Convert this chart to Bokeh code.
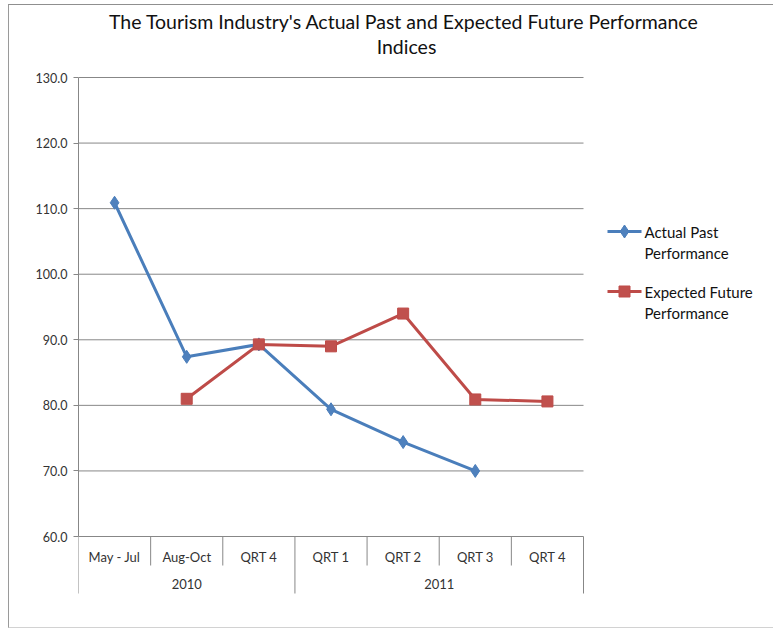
from bokeh.plotting import figure
from bokeh.models import Range1d, FixedTicker, PrintfTickFormatter
from bokeh.core.properties import value
from bokeh.embed import file_html
from bokeh.resources import INLINE

nan = float("nan")

# ---- data -------------------------------------------------------------
periods = ["May - Jul", "Aug-Oct", "QRT 4", "QRT 1", "QRT 2", "QRT 3", "QRT 4"]
years = ["2010", "2011"]
periods_per_year = [3, 4]
actual_past = [110.9, 87.4, 89.3, 79.4, 74.4, 70.0, nan]
expected_future = [nan, 81.0, 89.3, 89.0, 94.0, 80.9, 80.6]
y_ticks = [60, 70, 80, 90, 100, 110, 120, 130]
series_labels = [["Actual Past", "Performance"], ["Expected Future", "Performance"]]
title_lines = ["The Tourism  Industry's Actual Past and Expected Future Performance", "Indices"]

# ---- layout (canvas pixels) -------------------------------------------
W, H = 765, 624
FRAME_LEFT = 69            # pixel x of the first category boundary
PLOT_RIGHT = 574           # pixel x of the last category boundary
Y_TOP_PX, Y_BOT_PX = 72, 531   # pixel y of the top / bottom tick

n = len(periods)
ux = (PLOT_RIGHT - FRAME_LEFT) / n
y_lo, y_hi = min(y_ticks), max(y_ticks)
uy = (Y_BOT_PX - Y_TOP_PX) / (y_hi - y_lo)


def dx(px):
    return (px - FRAME_LEFT) / ux


def dy(py):
    return y_hi - (py - Y_TOP_PX) / uy


FONT = value("Lato")
GRID = "#878787"
BLUE_LINE, BLUE_MARK = "#4a7ebb", "#4f81bd"
RED_LINE, RED_MARK = "#be4b48", "#c0504d"

p = figure(
    width=W, height=H,
    x_range=Range1d(0, dx(W)), y_range=Range1d(dy(H), dy(0)),
    output_backend="svg", toolbar_location=None, x_axis_location=None,
    min_border_left=FRAME_LEFT, min_border_right=0, min_border_top=0, min_border_bottom=0,
    background_fill_color="white", border_fill_color="white",
    margin=(4, 0, 0, 8),
    styles={
        "border-top": "1px solid #8f8f8f",
        "border-left": "1px solid #9a9a9a",
        "border-bottom": "1px solid #d2d2d2",
    },
)
p.outline_line_color = None
p.grid.visible = False

# value axis
ax = p.yaxis[0]
ax.ticker = FixedTicker(ticks=y_ticks)
ax.formatter = PrintfTickFormatter(format="%.1f")
ax.bounds = (y_lo, y_hi)
ax.axis_line_color = GRID
ax.major_tick_line_color = GRID
ax.major_tick_out = 5
ax.major_tick_in = 0
ax.minor_tick_line_color = None
ax.major_label_standoff = 6
ax.major_label_text_font = "Lato"
ax.major_label_text_font_size = "12.5px"
ax.major_label_text_color = "#333333"

# horizontal gridlines
p.segment(x0=[0] * len(y_ticks), x1=[n] * len(y_ticks), y0=y_ticks, y1=y_ticks,
          line_color=GRID, line_width=1)

# category axis: period labels, year labels and separators
centers = [i + 0.5 for i in range(n)]
p.text(x=centers, y=[dy(551)] * n, text=periods, text_font=FONT, text_font_size="13px",
       text_color="#333333", text_align="center", text_baseline="middle")

bounds = [0]
for c in periods_per_year:
    bounds.append(bounds[-1] + c)
inner = [i for i in range(1, n) if i not in bounds]
p.segment(x0=inner, x1=inner, y0=[y_lo] * len(inner), y1=[dy(560)] * len(inner),
          line_color=GRID, line_width=1)
p.segment(x0=bounds, x1=bounds, y0=[y_lo] * len(bounds), y1=[dy(588)] * len(bounds),
          line_color=GRID, line_width=1)
year_x = [(bounds[i] + bounds[i + 1]) / 2 for i in range(len(years))]
p.text(x=year_x, y=[dy(578)] * len(years), text=years, text_font=FONT, text_font_size="13px",
       text_color="#333333", text_align="center", text_baseline="middle")

# series
p.line(centers, actual_past, line_color=BLUE_LINE, line_width=3)
p.scatter(centers, actual_past, marker="diamond", size=13,
          fill_color=BLUE_MARK, line_color=BLUE_LINE, line_width=1)
p.line(centers, expected_future, line_color=RED_LINE, line_width=3)
p.scatter(centers, expected_future, marker="square", size=11,
          fill_color=RED_MARK, line_color=RED_LINE, line_width=1)

# legend
leg_rows = [226, 286]
styles = [(BLUE_LINE, BLUE_MARK, "diamond", 13), (RED_LINE, RED_MARK, "square", 11)]
for (lc, mc, mk, sz), row, lines in zip(styles, leg_rows, series_labels):
    p.line([dx(598), dx(632)], [dy(row), dy(row)], line_color=lc, line_width=3)
    p.scatter([dx(615)], [dy(row)], marker=mk, size=sz, fill_color=mc, line_color=lc)
    p.text(x=[dx(635)] * len(lines), y=[dy(row), dy(row + 21)], text=lines,
           text_font=FONT, text_font_size="15px", text_color="#111111",
           text_align="left", text_baseline="middle")

# title
p.text(x=[dx(397)] * len(title_lines), y=[dy(15.5), dy(41)], text=title_lines,
       text_font=FONT, text_font_size="19.5px", text_color="#111111",
       text_align="center", text_baseline="middle")

open("out.html", "w").write(file_html(p, INLINE))
